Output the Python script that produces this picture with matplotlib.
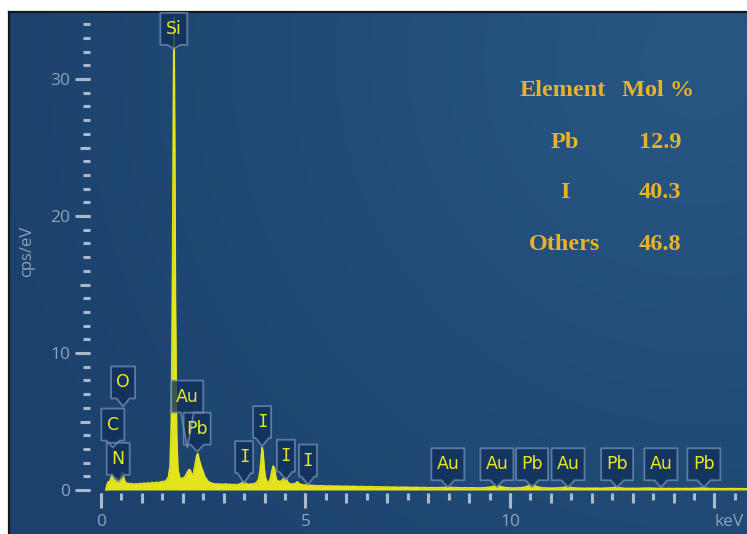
import numpy as np
import matplotlib
matplotlib.use("Agg")
import matplotlib.pyplot as plt
import matplotlib.transforms as mtransforms
from matplotlib.patches import Polygon
from matplotlib.ticker import MultipleLocator, FixedLocator

plt.rcParams["font.family"] = ["Open Sans", "DejaVu Sans"]

# ---- EDS spectrum (energy in keV, intensity in cps/eV) ----
energy_kev = [
    0.12, 0.15, 0.18, 0.21, 0.24, 0.27, 0.29, 0.31, 0.34, 0.37, 0.39, 0.42, 0.45,
    0.48, 0.51, 0.53, 0.55, 0.58, 0.62, 0.66, 0.70, 0.75, 0.80, 0.85, 0.90, 0.95,
    1.00, 1.05, 1.10, 1.15, 1.20, 1.25, 1.30, 1.35, 1.40, 1.45, 1.50, 1.55, 1.60,
    1.65, 1.69, 1.72, 1.75, 1.77, 1.785, 1.80, 1.82, 1.85, 1.88, 1.92, 1.96, 2.00,
    2.04, 2.08, 2.12, 2.16, 2.19, 2.22, 2.26, 2.30, 2.34, 2.37, 2.40, 2.43, 2.46,
    2.50, 2.54, 2.58, 2.62, 2.66, 2.70, 2.75, 2.80, 2.85, 2.90, 2.95, 3.00, 3.05,
    3.10, 3.15, 3.20, 3.25, 3.30, 3.35, 3.40, 3.45, 3.49, 3.53, 3.58, 3.62, 3.66,
    3.70, 3.75, 3.80, 3.85, 3.89, 3.92, 3.94, 3.96, 3.99, 4.02, 4.06, 4.10, 4.14,
    4.18, 4.21, 4.24, 4.27, 4.30, 4.34, 4.38, 4.42, 4.46, 4.50, 4.53, 4.57, 4.62,
    4.67, 4.72, 4.77, 4.80, 4.83, 4.88, 4.93, 4.98, 5.05, 5.10, 5.20, 5.30, 5.40,
    5.50, 5.60, 5.70, 5.80, 5.90, 6.00, 6.10, 6.20, 6.30, 6.40, 6.50, 6.60, 6.70,
    6.80, 6.90, 7.00, 7.10, 7.20, 7.30, 7.40, 7.50, 7.60, 7.70, 7.80, 7.90, 8.00,
    8.10, 8.20, 8.30, 8.40, 8.50, 8.60, 8.70, 8.80, 8.90, 9.00, 9.10, 9.20, 9.30,
    9.40, 9.50, 9.60, 9.70, 9.80, 9.90, 10.00, 10.10, 10.20, 10.30, 10.40, 10.50,
    10.55, 10.60, 10.70, 10.80, 10.90, 11.00, 11.10, 11.20, 11.30, 11.40, 11.50,
    11.60, 11.70, 11.80, 11.90, 12.00, 12.10, 12.20, 12.30, 12.40, 12.50, 12.60,
    12.70, 12.80, 12.90, 13.00, 13.10, 13.20, 13.30, 13.40, 13.50, 13.60, 13.70,
    13.80, 13.90, 14.00, 14.10, 14.20, 14.30, 14.40, 14.50, 14.60, 14.70, 14.80,
    14.90, 15.00, 15.20, 15.40, 15.60, 15.80,
]
cps_per_ev = [
    0.00, 0.40, 0.60, 0.55, 0.85, 1.05, 1.15, 0.75, 0.50, 0.75, 0.90, 0.55, 0.60,
    0.95, 1.20, 1.30, 1.00, 0.65, 0.45, 0.50, 0.42, 0.48, 0.40, 0.46, 0.42, 0.48,
    0.43, 0.50, 0.45, 0.52, 0.47, 0.55, 0.50, 0.56, 0.52, 0.58, 0.62, 0.60, 0.72,
    0.95, 1.80, 5.00, 16.0, 28.0, 34.5, 27.0, 14.0, 4.00, 1.50, 0.95, 0.80, 0.88,
    0.92, 1.10, 1.35, 1.50, 1.40, 1.05, 1.20, 1.80, 2.50, 2.65, 2.20, 1.90, 1.60,
    1.30, 0.95, 0.78, 0.62, 0.55, 0.50, 0.46, 0.42, 0.45, 0.40, 0.43, 0.40, 0.44,
    0.39, 0.42, 0.38, 0.41, 0.37, 0.40, 0.44, 0.52, 0.62, 0.50, 0.43, 0.40, 0.44,
    0.42, 0.47, 0.52, 0.75, 1.40, 2.40, 3.10, 2.80, 1.60, 0.90, 0.60, 0.55, 0.80,
    1.40, 1.75, 1.60, 1.00, 0.70, 0.65, 0.60, 0.70, 0.80, 0.90, 0.80, 0.55, 0.45,
    0.42, 0.45, 0.50, 0.60, 0.50, 0.40, 0.38, 0.35, 0.40, 0.34, 0.32, 0.30, 0.31,
    0.28, 0.30, 0.27, 0.28, 0.26, 0.27, 0.25, 0.26, 0.24, 0.25, 0.23, 0.24, 0.22,
    0.23, 0.21, 0.22, 0.20, 0.21, 0.19, 0.20, 0.19, 0.18, 0.19, 0.17, 0.18, 0.16,
    0.17, 0.16, 0.17, 0.18, 0.20, 0.17, 0.16, 0.15, 0.16, 0.15, 0.16, 0.14, 0.15,
    0.16, 0.20, 0.26, 0.30, 0.22, 0.16, 0.15, 0.14, 0.15, 0.17, 0.24, 0.34,
    0.38, 0.30, 0.20, 0.15, 0.14, 0.13, 0.14, 0.15, 0.18, 0.22, 0.17,
    0.14, 0.13, 0.12, 0.13, 0.12, 0.13, 0.12, 0.13, 0.14, 0.16, 0.20,
    0.15, 0.12, 0.11, 0.12, 0.11, 0.12, 0.13, 0.14, 0.12, 0.11, 0.12,
    0.10, 0.11, 0.10, 0.11, 0.10, 0.11, 0.10, 0.11, 0.12, 0.14, 0.12,
    0.10, 0.10, 0.09, 0.10, 0.09, 0.09,
]

# ---- identified lines ----
line_elements = ["C", "N", "O", "Si", "Au", "Pb", "I", "I", "I", "I",
                 "Au", "Au", "Pb", "Au", "Pb", "Au", "Pb"]
line_energy_kev = [0.29, 0.42, 0.54, 1.78, 2.11, 2.35, 3.50, 3.94, 4.52, 5.06,
                   8.48, 9.68, 10.54, 11.42, 12.62, 13.69, 14.74]

# ---- composition table ----
table_elements = ["Pb", "I", "Others"]
table_mol_pct = [12.9, 40.3, 46.8]

# callout layout: marker tip level (cps/eV), pointer length and box width (px)
tip_level = [3.1, 0.6, 6.1, 32.2, 3.1, 2.8, 0.5, 3.2, 0.75, 0.4,
             0.2, 0.2, 0.2, 0.2, 0.2, 0.2, 0.2]
pointer_px = [7, 7, 8, 4, 35, 7, 10, 8, 8, 8, 7, 7, 7, 7, 7, 7, 7]
box_w_px = [23, 23, 24, 27, 32, 27, 18, 18, 18, 18, 33, 33, 32, 33, 32, 33, 33]
BOX_H = 32

W, H = 747, 534
fig = plt.figure(figsize=(W / 100, H / 100), dpi=100, facecolor="white")

# background panel with soft radial glow
bg = fig.add_axes([0, 0, 1, 1])
bg.set_xlim(0, W)
bg.set_ylim(H, 0)
bg.axis("off")
x0, y0 = 9, 12
yy, xx = np.mgrid[y0:H, x0:W]
t = np.clip(np.hypot(xx - 700, yy - 60) / 760.0, 0, 1)[..., None]
inner = np.array([40, 86, 131]) / 255
outer = np.array([27, 65, 108]) / 255
bg.imshow(inner * (1 - t) + outer * t, extent=(x0, W, H, y0), aspect="auto",
          interpolation="bilinear")
bg.plot([8.5, 8.5], [11.5, H], color="#15181c", lw=1.6)
bg.plot([8.5, W], [11.5, 11.5], color="#15181c", lw=1.6)

# spectrum axes: 0 keV at x=101 px, 40.9 px/keV; 0 cps at y=490 px, 13.7 px/unit
PX_KEV, PX_CPS = 40.9, 13.7
left_px, right_px, bottom_px, top_px = 90, W, 493, 11
ax = fig.add_axes([left_px / W, (H - bottom_px) / H,
                   (right_px - left_px) / W, (bottom_px - top_px) / H])
ax.set_xlim((left_px - 101) / PX_KEV, (right_px - 101) / PX_KEV)
ax.set_ylim(-(bottom_px - 490) / PX_CPS, (490 - top_px) / PX_CPS)
ax.patch.set_visible(False)
for s in ax.spines.values():
    s.set_visible(False)

tick_col = "#a9b8cb"
lab_col = "#8ea2ba"
ax.xaxis.set_major_locator(MultipleLocator(1))
ax.xaxis.set_minor_locator(MultipleLocator(0.5))
ax.yaxis.set_major_locator(MultipleLocator(5))
ax.yaxis.set_minor_locator(MultipleLocator(1))
ax.tick_params(which="major", length=7.2, width=2.2, color=tick_col,
               labelbottom=False, labelleft=False)
ax.tick_params(which="minor", length=5.0, width=2.2, color=tick_col)

secx = ax.secondary_xaxis("bottom")
secx.xaxis.set_major_locator(FixedLocator([0, 5, 10, 15]))
secx.set_xticklabels(["0", "5", "10", ""])
secx.tick_params(length=10.8, width=2.2, color=tick_col, labelcolor=lab_col,
                 labelsize=12.5, pad=4)
secx.spines["bottom"].set_visible(False)

secy = ax.secondary_yaxis("left")
secy.yaxis.set_major_locator(FixedLocator([0, 10, 20, 30]))
secy.set_yticklabels(["0", "10", "20", "30"])
secy.tick_params(length=10.8, width=2.2, color=tick_col, labelcolor=lab_col,
                 labelsize=12.5, pad=3.5)
secy.spines["left"].set_visible(False)

bg.text(27, 251, "cps/eV", rotation=90, ha="center", va="center",
        color=lab_col, fontsize=12)
bg.text(714, 522, "keV", ha="left", va="center", color=lab_col, fontsize=12.5)

# spectrum
spec_col = "#e4e41c"
ax.fill_between(energy_kev, cps_per_ev, 0, color=spec_col, lw=0, zorder=2)
ax.plot(energy_kev, cps_per_ev, color=spec_col, lw=1.2, zorder=2)

# line markers: box with a pointer, tip anchored at the line energy
px_to_in = mtransforms.Affine2D().scale(1 / 100.0)
for el, e, lvl, plen, bw in zip(line_elements, line_energy_kev, tip_level,
                                pointer_px, box_w_px):
    trans = px_to_in + fig.dpi_scale_trans + \
        mtransforms.ScaledTranslation(e, lvl, ax.transData)
    hb = min(6.5, bw / 2 - 1)
    verts = [(0, 0), (hb, plen), (bw / 2, plen), (bw / 2, plen + BOX_H),
             (-bw / 2, plen + BOX_H), (-bw / 2, plen), (-hb, plen)]
    ax.add_patch(Polygon(verts, closed=True, transform=trans,
                         facecolor="#11305a", alpha=0.8, edgecolor="none",
                         zorder=3, clip_on=False))
    ax.add_patch(Polygon(verts, closed=True, transform=trans,
                         facecolor="none", edgecolor="#7390b6", alpha=0.75,
                         lw=1.3, joinstyle="round", zorder=3.5, clip_on=False))
    fam = ["DejaVu Sans Mono"] if el == "I" else ["DejaVu Sans"]
    ax.text(0, plen + BOX_H / 2, el, transform=trans, ha="center",
            va="center", color="#e8e822", fontsize=12.5, family=fam,
            zorder=4, clip_on=False)

# composition table
gold = "#e8b22a"
tkw = dict(color=gold, fontsize=17.5, fontweight="bold",
           family=["Liberation Serif", "DejaVu Serif"], va="center")
bg.text(520, 90, "Element", ha="left", **tkw)
bg.text(622, 90, "Mol %", ha="left", **tkw)
for i, (el, v) in enumerate(zip(table_elements, table_mol_pct)):
    y = [143, 192, 245][i]
    bg.text(565, y, el, ha="center", **tkw)
    bg.text(660, y, f"{v:.1f}", ha="center", **tkw)

fig.savefig("out.png", dpi=100)
